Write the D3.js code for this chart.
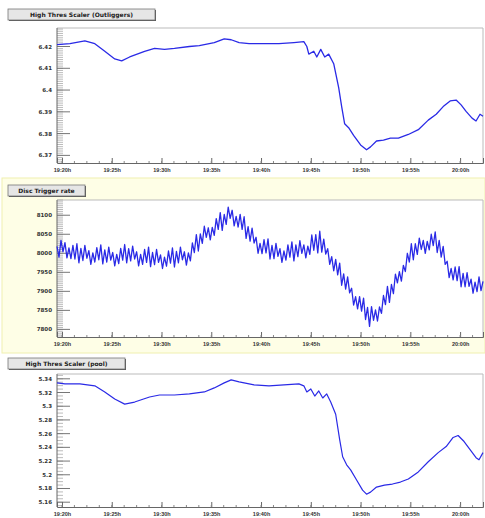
<!DOCTYPE html>
<html>
<head>
<meta charset="utf-8">
<script src="https://cdn.jsdelivr.net/npm/d3@7"></script>
<style>
  body { margin: 0; background: #fff; }
  svg { display: block; font-family: "DejaVu Sans", sans-serif; }
</style>
</head>
<body>
<svg id="chart"></svg>
<script>
// time axis: minutes after 19:20
const timeTicks = [0, 5, 10, 15, 20, 25, 30, 35, 40];

// panel 1: High Thres Scaler (Outliggers)
const outTime = [-0.5, 0.8, 2.3, 3.3, 4.3, 5.3, 6.0, 6.8, 8.3, 9.3, 10.3, 11.3, 12.8, 13.8, 15.3, 16.3, 17.0, 17.8, 18.8, 20.3, 21.8, 23.3, 24.3, 24.6, 24.8, 25.3, 25.6, 26.0, 26.4, 26.8, 27.3, 27.8, 28.1, 28.4, 28.8, 29.3, 30.0, 30.6, 31.0, 31.6, 32.3, 33.0, 33.8, 34.8, 35.8, 36.8, 37.6, 38.3, 39.0, 39.6, 40.1, 40.6, 41.2, 41.6, 42.0, 42.3];
const outValue = [6.4209, 6.4213, 6.4226, 6.4213, 6.4178, 6.4143, 6.4134, 6.4152, 6.4178, 6.4191, 6.4187, 6.4191, 6.4200, 6.4204, 6.4218, 6.4235, 6.4231, 6.4218, 6.4213, 6.4213, 6.4213, 6.4218, 6.4222, 6.4200, 6.4165, 6.4178, 6.4152, 6.4187, 6.4152, 6.4165, 6.4121, 6.4011, 6.3924, 6.3845, 6.3827, 6.3792, 6.3748, 6.3726, 6.3739, 6.3766, 6.3770, 6.3779, 6.3779, 6.3796, 6.3818, 6.3862, 6.3889, 6.3924, 6.3950, 6.3954, 6.3932, 6.3902, 6.3871, 6.3858, 6.3889, 6.3880];
const outTicks = [6.37, 6.38, 6.39, 6.40, 6.41, 6.42];

// panel 2: Disc Trigger rate, one sample every 0.2 min from -0.5
const rateStart = -0.5;
const rateStep = 0.2;
const rateValue = [
  8018, 7990, 8034, 8004, 8028, 7988, 8014, 7986, 8021, 7985,
  8025, 7975, 8013, 7981, 8021, 7987, 8007, 7971, 8001, 7977,
  8015, 7983, 8022, 7972, 8009, 7977, 8016, 7982, 8002, 7967,
  7997, 7973, 8013, 7982, 8023, 7975, 8012, 7980, 8019, 7985,
  8004, 7967, 7997, 7971, 8010, 7976, 8016, 7965, 8002, 7970,
  8010, 7976, 7996, 7960, 7990, 7966, 8006, 7974, 8014, 7964,
  8005, 7975, 8016, 7983, 8004, 7969, 8001, 7980, 8027, 8002,
  8049, 8006, 8051, 8026, 8071, 8042, 8067, 8035, 8068, 8047,
  8091, 8063, 8107, 8060, 8102, 8076, 8121, 8092, 8113, 8072,
  8097, 8069, 8102, 8063, 8096, 8039, 8070, 8032, 8066, 8027,
  8042, 8000, 8026, 7999, 8036, 8001, 8038, 7985, 8021, 7986,
  8026, 7992, 8012, 7976, 8006, 7982, 8022, 7990, 8030, 7980,
  8022, 7991, 8033, 8000, 8022, 7988, 8019, 7997, 8048, 8008,
  8049, 8001, 8058, 8003, 8037, 7998, 8012, 7971, 7991, 7954,
  7984, 7943, 7974, 7916, 7946, 7906, 7938, 7896, 7908, 7864,
  7886, 7854, 7886, 7848, 7882, 7826, 7858, 7808, 7860, 7824,
  7851, 7822, 7859, 7842, 7889, 7865, 7913, 7871, 7918, 7894,
  7945, 7922, 7952, 7927, 7968, 7952, 8000, 7977, 8025, 7983,
  8025, 7997, 8040, 8010, 8034, 8000, 8031, 8009, 8050, 8020,
  8056, 8002, 8034, 7990, 8018, 7971, 7979, 7936, 7960, 7930,
  7964, 7928, 7965, 7912, 7947, 7912, 7949, 7913, 7932, 7895,
  7924, 7899, 7938, 7902, 7926];
const rateTicks = [7800, 7850, 7900, 7950, 8000, 8050, 8100];

// panel 3: High Thres Scaler (pool)
const poolTime = [-0.5, 0.3, 1.8, 3.3, 4.3, 5.3, 6.3, 7.3, 8.8, 9.8, 11.3, 12.8, 14.3, 15.3, 16.3, 17.0, 17.8, 19.3, 20.8, 22.3, 23.8, 24.3, 24.6, 25.0, 25.4, 25.8, 26.2, 26.6, 27.0, 27.5, 27.9, 28.2, 28.6, 29.0, 29.6, 30.2, 30.6, 31.0, 31.6, 32.4, 33.2, 34.0, 34.8, 35.8, 36.8, 37.8, 38.6, 39.3, 39.8, 40.4, 41.0, 41.6, 41.9, 42.3];
const poolValue = [5.3341, 5.3326, 5.3326, 5.3297, 5.3208, 5.3105, 5.3031, 5.3061, 5.3134, 5.3164, 5.3164, 5.3179, 5.3208, 5.3267, 5.3341, 5.3385, 5.3356, 5.3311, 5.3297, 5.3311, 5.3326, 5.3297, 5.3208, 5.3252, 5.3149, 5.3223, 5.3120, 5.3179, 5.3061, 5.2883, 5.2514, 5.2263, 5.2145, 5.2072, 5.1924, 5.1776, 5.1717, 5.1747, 5.1821, 5.1850, 5.1865, 5.1894, 5.1939, 5.2042, 5.2190, 5.2323, 5.2411, 5.2544, 5.2573, 5.2485, 5.2367, 5.2249, 5.2219, 5.2323];
const poolTicks = [5.16, 5.18, 5.2, 5.22, 5.24, 5.26, 5.28, 5.3, 5.32, 5.34];

const W = 485, H = 518;
const svg = d3.select("#chart").attr("width", W).attr("height", H);

const rateTime = rateValue.map((v, i) => rateStart + i * rateStep);

const panels = [
  { title: "High Thres Scaler (Outliggers)", bw: 147, by: 9, top: 28, bottom: 163,
    x: outTime, y: outValue, yTicks: outTicks, yMin: 6.3665, yMax: 6.4285, lw: 1.3,
    bg: null, fmt: d3.format(".3~f") },
  { title: "Disc Trigger rate", bw: 77, by: 185, top: 200, bottom: 337,
    x: rateTime, y: rateValue, yTicks: rateTicks, yMin: 7780, yMax: 8140, lw: 1.3,
    bg: [178, 353], fmt: d3.format("d") },
  { title: "High Thres Scaler (pool)", bw: 117, by: 358, top: 374, bottom: 507,
    x: poolTime, y: poolValue, yTicks: poolTicks, yMin: 5.153, yMax: 5.347, lw: 1.2,
    bg: null, fmt: d3.format(".3~f") }
];

const xScale = d3.scaleLinear().domain([-0.5, 42.3]).range([57, 483]);
const timeLabel = (t) => {
  const m = 19 * 60 + 20 + t;
  return Math.floor(m / 60) + ":" + d3.format("02d")(m % 60) + "h";
};

panels.forEach((p) => {
  const g = svg.append("g");

  if (p.bg) {
    g.append("rect").attr("x", 2).attr("y", p.bg[0]).attr("width", W - 2)
      .attr("height", p.bg[1] - p.bg[0]).attr("fill", "#fefee6")
      .attr("stroke", "#f0f0b0").attr("stroke-width", 1);
    g.append("rect").attr("x", 57).attr("y", p.top).attr("width", 426)
      .attr("height", p.bottom - p.top).attr("fill", "#fff");
  }

  // title button
  const bt = g.append("g").attr("transform", `translate(8,${p.by})`);
  bt.append("rect").attr("x", 1).attr("y", 1).attr("width", p.bw).attr("height", 11)
    .attr("fill", "#555");
  bt.append("rect").attr("width", p.bw).attr("height", 11)
    .attr("fill", "#e6e6e6").attr("stroke", "#777").attr("stroke-width", 0.8);
  bt.append("text").attr("x", p.bw / 2).attr("y", 8).attr("text-anchor", "middle")
    .attr("font-size", "6px").attr("font-weight", "bold").attr("fill", "#222")
    .text(p.title);

  const y = d3.scaleLinear().domain([p.yMin, p.yMax]).range([p.bottom, p.top]);

  // frame
  g.append("path")
    .attr("d", `M57,${p.top}H483V${p.bottom}`)
    .attr("fill", "none").attr("stroke", "#bbb").attr("stroke-width", 1);

  // y axis with minor ticks
  const yAxis = g.append("g").attr("transform", "translate(57,0)");
  const minor = d3.ticks(p.yMin, p.yMax, 60);
  yAxis.selectAll(".minor").data(minor).enter().append("line")
    .attr("x1", 0).attr("x2", 6).attr("y1", (d) => y(d)).attr("y2", (d) => y(d))
    .attr("stroke", "#aaa").attr("stroke-width", 0.8);
  yAxis.selectAll(".major").data(p.yTicks).enter().append("line")
    .attr("x1", 0).attr("x2", 13).attr("y1", (d) => y(d)).attr("y2", (d) => y(d))
    .attr("stroke", "#777").attr("stroke-width", 1);
  yAxis.append("line").attr("y1", p.top).attr("y2", p.bottom)
    .attr("stroke", "#666").attr("stroke-width", 1);
  yAxis.selectAll(".lbl").data(p.yTicks).enter().append("text")
    .attr("x", -5).attr("y", (d) => y(d) + 2).attr("text-anchor", "end")
    .attr("font-size", "5.5px").attr("font-weight", "bold").attr("fill", "#333")
    .text((d) => p.fmt(d));

  // x axis
  const xAxis = d3.axisBottom(xScale).tickValues(timeTicks).tickSize(-5)
    .tickFormat(timeLabel).tickPadding(5);
  const gx = g.append("g").attr("transform", `translate(0,${p.bottom})`).call(xAxis);
  gx.select(".domain").attr("stroke", "#666");
  gx.selectAll(".tick line").attr("stroke", "#666");
  gx.selectAll(".tick text").attr("font-size", "5.5px").attr("font-weight", "bold")
    .attr("fill", "#333");
  gx.selectAll(".mtick").data(d3.range(0, 42, 1.25)).enter().append("line")
    .attr("x1", (d) => xScale(d)).attr("x2", (d) => xScale(d))
    .attr("y1", 0).attr("y2", -2).attr("stroke", "#888");

  // data line
  const pts = p.x.map((t, i) => [t, p.y[i]]);
  g.append("path").datum(pts)
    .attr("fill", "none").attr("stroke", "#2a2ae6").attr("stroke-width", p.lw)
    .attr("stroke-linejoin", "round")
    .attr("d", d3.line().x((d) => xScale(d[0])).y((d) => y(d[1])));
});
</script>
</body>
</html>
